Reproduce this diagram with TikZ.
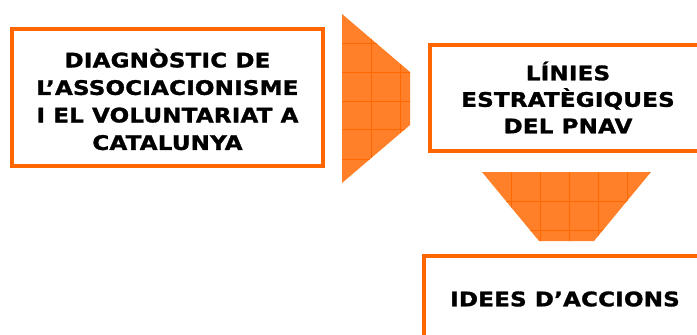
\documentclass[tikz,border=0pt]{standalone}
\usepackage{fontspec}
\newfontfamily\labfont{DejaVu Sans}[FakeStretch=1.15,FakeBold=1.5,LetterSpace=1]
\definecolor{frame}{RGB}{255,102,0}
\definecolor{arrfill}{RGB}{255,128,40}
\definecolor{arrgrid}{RGB}{255,104,0}
\begin{document}
\begin{tikzpicture}[x=1pt,y=-1pt,
  box/.style={draw=frame,line width=4pt,fill=white,inner sep=0pt},
  lab/.style={align=center,inner sep=0pt,text=black,
    font=\labfont\bfseries\fontsize{20}{27.5}\selectfont},
  arrowshape/.style={fill=arrfill,draw=none},
  gridline/.style={draw=arrgrid,line width=0.9pt}]
\useasboundingbox (0,0) rectangle (697,335);
\clip (0,0) rectangle (697,335);
% boxes
\node[box,minimum width=311pt,minimum height=137pt] (diag) at (167.5,97.5) {};
\node[lab] (diagtext) at (167.5,99.5)
  {DIAGNÒSTIC DE\\L’ASSOCIACIONISME\\I EL VOLUNTARIAT A\\CATALUNYA};
\node[box,minimum width=276pt,minimum height=106pt] (linies) at (568,98) {};
\node[lab,font=\labfont\bfseries\fontsize{20}{26.5}\selectfont] (liniestext) at (568,97.5)
  {LÍNIES\\ESTRATÈGIQUES\\DEL PNAV};
\node[box,minimum width=282pt,minimum height=86pt] (idees) at (565,299) {};
\node[lab] (ideestext) at (565,299) {IDEES D’ACCIONS};
% right-pointing arrow shape
\begin{scope}
  \path[arrowshape] (342,14) -- (410,72) -- (410,125) -- (342,183) -- cycle;
  \clip (342,14) -- (410,72) -- (410,125) -- (342,183) -- cycle;
  \foreach \gx in {371,400} \draw[gridline] (\gx,10) -- (\gx,190);
  \foreach \gy in {43,72,101,129,159} \draw[gridline] (335,\gy) -- (415,\gy);
\end{scope}
% down-pointing arrow shape
\begin{scope}
  \path[arrowshape] (482,172) -- (651,172) -- (594,241) -- (539,241) -- cycle;
  \clip (482,172) -- (651,172) -- (594,241) -- (539,241) -- cycle;
  \foreach \gx in {511,540,569,598,627} \draw[gridline] (\gx,165) -- (\gx,245);
  \foreach \gy in {201,230} \draw[gridline] (475,\gy) -- (660,\gy);
\end{scope}
\end{tikzpicture}
\end{document}
